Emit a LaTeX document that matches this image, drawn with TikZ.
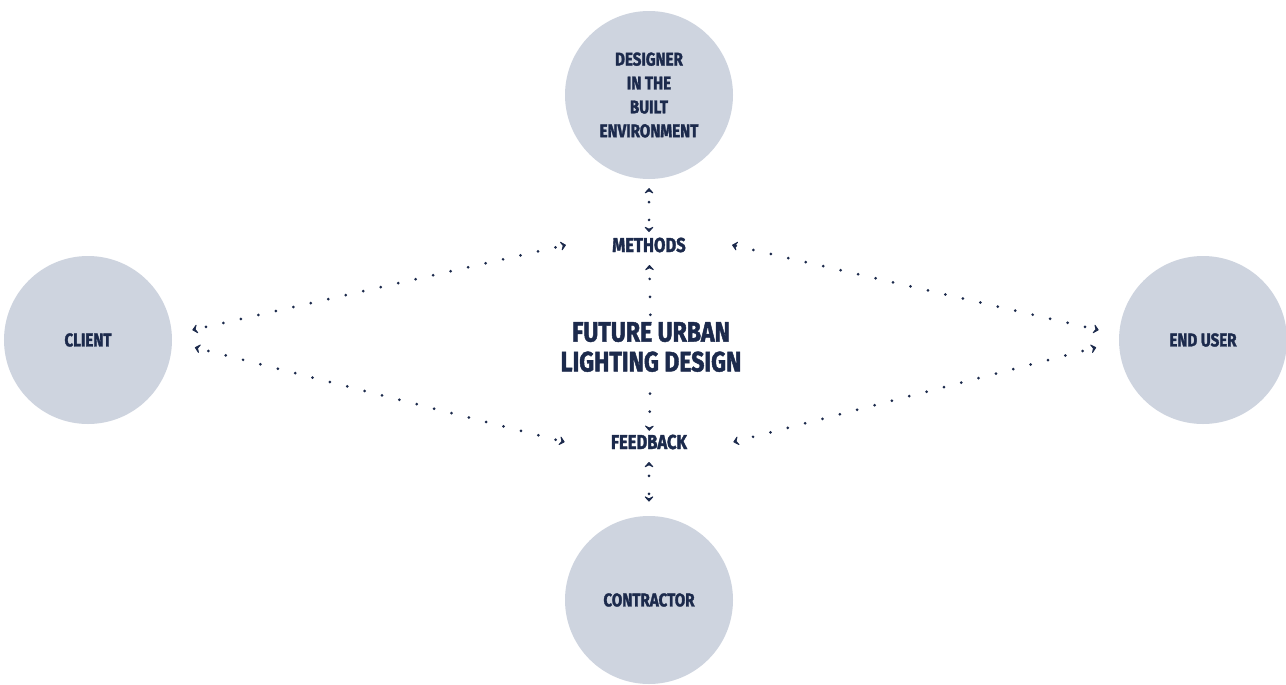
\documentclass[tikz,border=0pt]{standalone}
\usepackage{fontspec}
\setmainfont{Fira Sans}[FakeStretch=0.82, BoldFeatures={FakeBold=1.6}]
\usetikzlibrary{arrows.meta}
\definecolor{disc}{HTML}{CED4DF}
\definecolor{ink}{HTML}{1C2A4C}
\tikzset{
	party/.style={circle, fill=disc, minimum size=3.36cm, inner sep=0pt, text=ink, align=center,
		font=\bfseries\fontsize{10.5}{13.6}\selectfont},
	hub/.style={text=ink, inner sep=2pt, font=\bfseries\fontsize{11.5}{13}\selectfont},
	link/.style={ink, line width=1.7pt, line cap=round, dash pattern=on 0pt off 10.2pt, dash phase=4pt,
		>={Stealth[length=3.6pt,width=6.5pt,inset=1.6pt,line width=1pt,round]}}
}
\begin{document}
\begin{tikzpicture}
	\useasboundingbox (0,0) rectangle (25.72,-13.68);
	% the four parties
	\node[party] (designer) at (12.98,-1.9) {DESIGNER\\IN THE\\BUILT\\ENVIRONMENT};
	\node[party] (client) at (1.76,-6.8) {CLIENT};
	\node[party] (enduser) at (24.06,-6.8) {END USER};
	\node[party] (contractor) at (12.98,-12.0) {CONTRACTOR};
	% the middle
	\node[hub] (methods) at (12.98,-4.9) {METHODS};
	\node[hub] (feedback) at (12.98,-8.84) {FEEDBACK};
	\node[hub, align=center, font=\bfseries\fontsize{16}{17}\selectfont] (title) at (13.02,-6.94)
		{FUTURE URBAN\\LIGHTING DESIGN};
	% vertical links
	\draw[link,<->,shorten <=5pt,shorten >=1pt] (designer) -- (methods);
	\draw[link,<-,shorten <=5pt] (methods) -- (title);
	\draw[link,->,shorten <=4pt,shorten >=0pt] (title) -- (feedback);
	\draw[link,<->,shorten <=5pt,shorten >=8pt] (feedback) -- (contractor);
	% diagonal links
	\draw[link,<->] ([shift={(0.4,0.2)}]client.east) -- ([xshift=-0.85cm]methods.west);
	\draw[link,<->] ([shift={(0.45,-0.15)}]client.east) -- ([xshift=-0.85cm]feedback.west);
	\draw[link,<->] ([shift={(-0.4,0.2)}]enduser.west) -- ([xshift=0.85cm]methods.east);
	\draw[link,<->] ([shift={(-0.45,-0.15)}]enduser.west) -- ([xshift=0.85cm]feedback.east);
\end{tikzpicture}
\end{document}
